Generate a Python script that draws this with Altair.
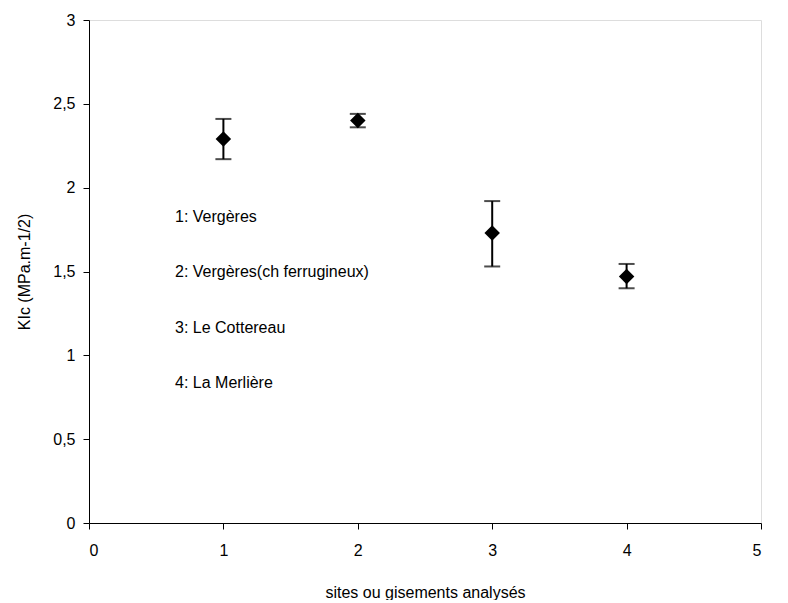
import altair as alt
import pandas as pd

sites = [1, 2, 3, 4]
klc = [2.29, 2.40, 1.73, 1.47]
err_low = [2.17, 2.36, 1.53, 1.40]
err_high = [2.41, 2.44, 1.92, 1.545]

labels = ["1: Vergères", "2: Vergères(ch ferrugineux)", "3: Le Cottereau", "4: La Merlière"]
label_x = [0.64, 0.64, 0.64, 0.64]
label_y = [1.825, 1.497, 1.163, 0.835]

df = pd.DataFrame({"site": sites, "klc": klc, "lo": err_low, "hi": err_high})
lab = pd.DataFrame({"text": labels, "x": label_x, "y": label_y})

FONT = "Liberation Sans"
comma = "replace(toString(datum.value), '.', ',')"

xs = alt.Scale(domain=[0, 5], nice=False, zero=False)
ys = alt.Scale(domain=[0, 3], nice=False, zero=False)

xax = alt.Axis(values=[0, 1, 2, 3, 4, 5], labelExpr="toString(datum.value)", title="sites ou gisements analysés", grid=False,
               labelFontSize=16, titleFontSize=16, titleFontWeight="normal", labelFont=FONT, titleFont=FONT,
               domainColor="black", tickColor="black", labelColor="black", titleColor="black",
               tickSize=6, labelPadding=13, titlePadding=26)
yax = alt.Axis(values=[0, 0.5, 1, 1.5, 2, 2.5, 3], labelExpr=comma, title="KIc (MPa.m-1/2)", grid=False,
               labelFontSize=16, titleFontSize=16, titleFontWeight="normal", labelFont=FONT, titleFont=FONT,
               domainColor="black", tickColor="black", labelColor="black", titleColor="black",
               tickSize=6, labelPadding=8, titlePadding=20)

base = alt.Chart(df)

rule = base.mark_rule(color="black", strokeWidth=2).encode(
    x=alt.X("site:Q", scale=xs, axis=xax),
    y=alt.Y("lo:Q", scale=ys, axis=yax),
    y2="hi:Q",
)
cap_lo = base.mark_tick(color="black", orient="horizontal", size=16, thickness=2).encode(
    x=alt.X("site:Q", scale=xs), y=alt.Y("lo:Q", scale=ys)
)
cap_hi = base.mark_tick(color="black", orient="horizontal", size=16, thickness=2).encode(
    x=alt.X("site:Q", scale=xs), y=alt.Y("hi:Q", scale=ys)
)
pts = base.mark_point(shape="diamond", filled=True, color="black", size=240, opacity=1).encode(
    x=alt.X("site:Q", scale=xs), y=alt.Y("klc:Q", scale=ys)
)
txt = alt.Chart(lab).mark_text(align="left", baseline="middle", font=FONT, fontSize=16, color="black").encode(
    x=alt.X("x:Q", scale=xs), y=alt.Y("y:Q", scale=ys), text="text:N"
)

chart = alt.layer(rule, cap_lo, cap_hi, pts, txt).properties(
    width=672, height=503, padding={"left": 8, "top": 4, "right": 5, "bottom": 0}
).configure_view(stroke=None).configure(background="white")

chart.save("out.html", embed_options={"renderer": "svg", "actions": False})
